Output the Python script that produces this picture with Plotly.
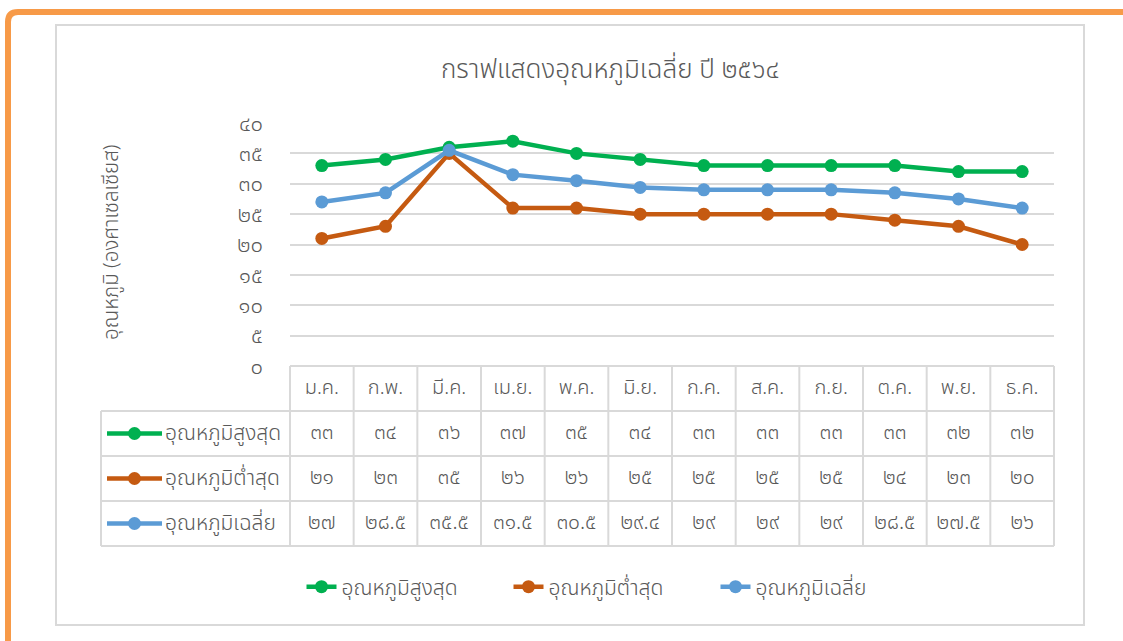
import plotly.graph_objects as go

# ---------------- data ----------------
months = ["ม.ค.", "ก.พ.", "มี.ค.", "เม.ย.", "พ.ค.", "มิ.ย.", "ก.ค.", "ส.ค.", "ก.ย.", "ต.ค.", "พ.ย.", "ธ.ค."]
series_names = ["อุณหภูมิสูงสุด", "อุณหภูมิต่ำสุด", "อุณหภูมิเฉลี่ย"]
temp_high = [33, 34, 36, 37, 35, 34, 33, 33, 33, 33, 32, 32]
temp_low = [21, 23, 35, 26, 26, 25, 25, 25, 25, 24, 23, 20]
temp_avg = [27, 28.5, 35.5, 31.5, 30.5, 29.4, 29, 29, 29, 28.5, 27.5, 26]
y_ticks = [0, 5, 10, 15, 20, 25, 30, 35, 40]
title_text = "กราฟแสดงอุณหภูมิเฉลี่ย ปี ๒๕๖๔"
y_title = "อุณหภูมิ (องศาเซลเซียส)"

colors = ["#00B050", "#C55A11", "#5B9BD5"]
series_values = [temp_high, temp_low, temp_avg]

THAI_DIGITS = str.maketrans("0123456789", "๐๑๒๓๔๕๖๗๘๙")


def thai(v):
    s = str(int(v)) if float(v).is_integer() else str(v)
    return s.translate(THAI_DIGITS)


# ---------------- geometry (pixels) ----------------
W, H = 1123, 641
PL, PR, PT, PB = 290, 1054, 123, 366
TL = 101
ROWS = [366, 411, 456, 501, 546]
TXT = "#595959"
GRID = "#D9D9D9"
FONT = "Noto Sans Thai, Tahoma, Leelawadee UI, sans-serif"
WT = 300


def fx(px):
    return px / W


def fy(py):
    return 1 - py / H


def tf(size):
    return dict(size=size, color=TXT, family=FONT, weight=WT)


fig = go.Figure()

# main lines
for name, vals, col in zip(series_names, series_values, colors):
    fig.add_trace(go.Scatter(
        x=months, y=vals, name=name, mode="lines+markers",
        line=dict(color=col, width=4.5), marker=dict(color=col, size=13),
        xaxis="x", yaxis="y", hoverinfo="x+y+name",
    ))

# table text: month header + values
fig.add_trace(go.Scatter(
    x=months, y=[0.5] * len(months), mode="text", text=months,
    textfont=tf(20), showlegend=False,
    xaxis="x", yaxis="y2", hoverinfo="skip",
))
for r, vals in enumerate(series_values):
    fig.add_trace(go.Scatter(
        x=months, y=[r + 1.5] * len(months), mode="text",
        text=[thai(v) for v in vals],
        textfont=tf(21), showlegend=False,
        xaxis="x", yaxis="y2", hoverinfo="skip",
    ))

shapes = []
# outer orange frame (rounded corner top-left)
shapes.append(dict(
    type="path", xref="paper", yref="paper",
    path=f"M {fx(8)},0 L {fx(8)},{fy(22)} Q {fx(8)},{fy(12)} {fx(18)},{fy(12)} L 1,{fy(12)}",
    line=dict(color="#F79A48", width=6), layer="above",
))
# chart border
shapes.append(dict(type="rect", xref="paper", yref="paper",
                   x0=fx(56), x1=fx(1084), y0=fy(625), y1=fy(25),
                   line=dict(color=GRID, width=2), layer="below"))

# table borders
colw = (PR - PL) / len(months)
for i in range(len(months) + 1):
    x = PL + i * colw
    shapes.append(dict(type="line", xref="paper", yref="paper",
                       x0=fx(x), x1=fx(x), y0=fy(ROWS[0]), y1=fy(ROWS[-1]),
                       line=dict(color=GRID, width=2)))
shapes.append(dict(type="line", xref="paper", yref="paper",
                   x0=fx(TL), x1=fx(TL), y0=fy(ROWS[1]), y1=fy(ROWS[-1]),
                   line=dict(color=GRID, width=2)))
shapes.append(dict(type="line", xref="paper", yref="paper",
                   x0=fx(PL), x1=fx(PR), y0=fy(ROWS[0]), y1=fy(ROWS[0]),
                   line=dict(color=GRID, width=2)))
for yy in ROWS[1:]:
    shapes.append(dict(type="line", xref="paper", yref="paper",
                       x0=fx(TL), x1=fx(PR), y0=fy(yy), y1=fy(yy),
                       line=dict(color=GRID, width=2)))

annotations = []
# row labels with legend keys
for r, (name, col) in enumerate(zip(series_names, colors)):
    cy = (ROWS[r + 1] + ROWS[r + 2]) / 2
    shapes.append(dict(type="line", xref="paper", yref="paper",
                       x0=fx(107), x1=fx(162), y0=fy(cy), y1=fy(cy),
                       line=dict(color=col, width=4.5)))
    shapes.append(dict(type="circle", xref="paper", yref="paper",
                       x0=fx(128), x1=fx(141), y0=fy(cy + 6.5), y1=fy(cy - 6.5),
                       fillcolor=col, line=dict(color=col, width=0)))
    annotations.append(dict(
        text=name, xref="paper", yref="paper", x=fx(163), y=fy(cy),
        xanchor="left", yanchor="middle", showarrow=False, font=tf(21),
    ))

# title & y-axis title
annotations.append(dict(text=title_text, xref="paper", yref="paper",
                        x=fx(610), y=fy(70), xanchor="center", yanchor="middle",
                        showarrow=False, font=tf(26)))
annotations.append(dict(text=y_title, xref="paper", yref="paper",
                        x=fx(111), y=fy(243), xanchor="center", yanchor="middle",
                        textangle=-90, showarrow=False, font=tf(20.5)))

fig.update_layout(
    width=W, height=H,
    margin=dict(l=0, r=0, t=0, b=0, pad=0, autoexpand=False),
    paper_bgcolor="white", plot_bgcolor="white",
    font=dict(family=FONT, color=TXT, weight=WT),
    shapes=shapes, annotations=annotations,
    xaxis=dict(domain=[fx(PL), fx(PR)], type="category", categoryarray=months,
               range=[-0.5, len(months) - 0.5], showgrid=False, showline=False,
               zeroline=False, showticklabels=False, ticks="", anchor="y",
               automargin=False),
    yaxis=dict(domain=[fy(PB), fy(PT)], range=[0, 40], tickvals=y_ticks,
               ticktext=[thai(v) for v in y_ticks], showgrid=True,
               gridcolor=GRID, gridwidth=1.5, zeroline=False, showline=False,
               ticks="", ticklabelstandoff=26, automargin=False,
               tickfont=tf(22), anchor="x"),
    yaxis2=dict(domain=[fy(ROWS[-1]), fy(ROWS[0])], range=[4, 0], visible=False,
                anchor="x", automargin=False),
    legend=dict(orientation="h", x=fx(612), y=fy(587), xanchor="center",
                yanchor="middle", font=tf(21),
                entrywidth=162, entrywidthmode="pixels",
                bgcolor="rgba(0,0,0,0)"),
    showlegend=True,
)

fig.write_html("out.html", config={"displayModeBar": False},
               post_script="document.body.style.margin='0px';")
